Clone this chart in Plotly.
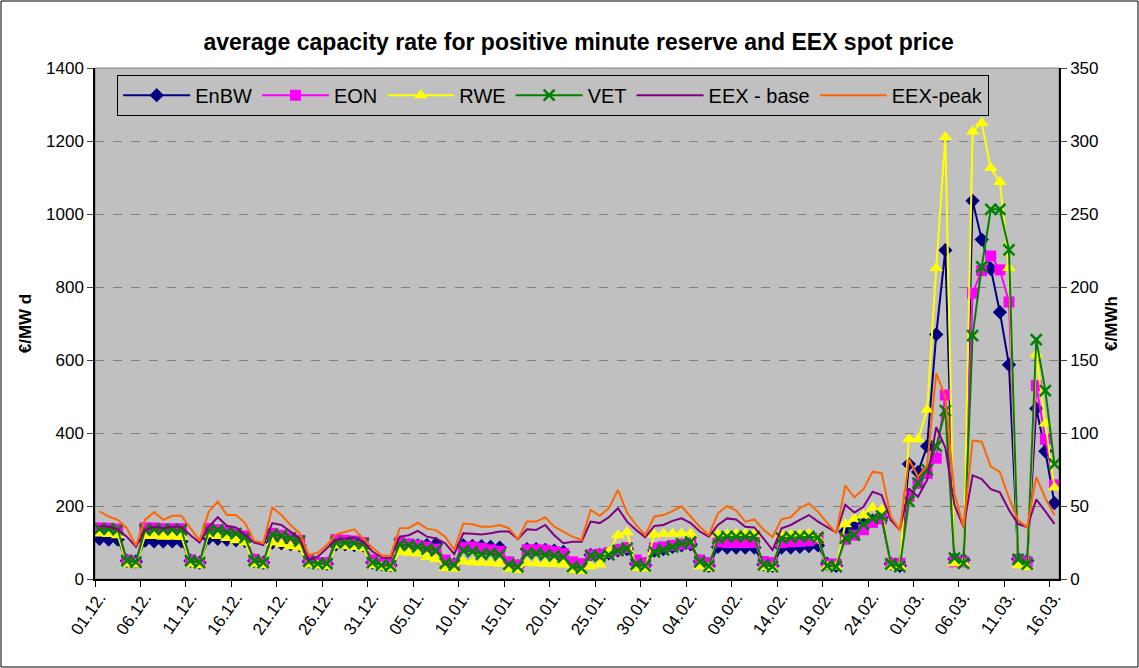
import pandas as pd
import plotly.graph_objects as go

# ---- categories: daily, 01.12.2004 .. 16.03.2005 ----
dates = pd.date_range("2004-12-01", "2005-03-16", freq="D")
day_labels = [d.strftime("%d.%m.") for d in dates]

# ---- supplier capacity rates (EUR/MW d) ----
enbw = [110, 108, 108, 50, 48, 105, 103, 103, 103, 103, 50, 45,
        112, 110, 108, 106, 104, 50, 45, 100, 98, 95, 92, 48, 45, 42,
        95, 95, 93, 92, 45, 40, 38, 90, 92, 92, 93, 96, 45, 40,
        92, 91, 90, 88, 86, 42, 35, 82, 82, 80, 78, 74, 40, 32,
        66, 66, 70, 78, 82, 42, 38, 78, 82, 88, 92, 95, 48, 36,
        88, 86, 86, 86, 86, 40, 36, 86, 86, 88, 90, 92, 42, 36,
        130, 142, 150, 160, 168, 42, 36, 315, 293, 364, 670, 901, 55, 52,
        1036, 930, 850, 731, 587, 55, 50, 467, 350, 208]
eon = [140, 139, 137, 52, 46, 140, 140, 138, 138, 138, 52, 45,
       138, 135, 130, 125, 118, 54, 45, 125, 120, 113, 106, 52, 45, 45,
       108, 106, 104, 100, 52, 42, 40, 100, 96, 92, 88, 82, 52, 40,
       86, 88, 84, 80, 76, 47, 38, 80, 80, 79, 75, 70, 47, 42,
       66, 68, 72, 80, 86, 52, 45, 85, 88, 92, 95, 98, 52, 45,
       102, 100, 100, 100, 100, 48, 45, 100, 102, 103, 105, 111, 41, 41,
       109, 120, 135, 155, 165, 43, 43, 226, 262, 289, 331, 504, 47, 47,
       783, 845, 885, 847, 759, 52, 47, 530, 383, 258]
rwe = [125, 123, 120, 42, 40, 118, 118, 116, 116, 115, 42, 38,
       122, 118, 112, 106, 100, 42, 38, 100, 96, 90, 86, 40, 36, 35,
       92, 90, 88, 85, 38, 32, 30, 75, 72, 70, 60, 55, 30, 28,
       48, 46, 45, 44, 42, 28, 25, 44, 43, 42, 41, 40, 25, 22,
       35, 40, 75, 120, 128, 30, 28, 122, 124, 124, 125, 124, 35, 30,
       122, 122, 124, 124, 124, 32, 30, 120, 120, 122, 124, 110, 34, 34,
       150, 165, 175, 195, 190, 34, 34, 383, 383, 464, 852, 1211, 43, 43,
       1226, 1249, 1126, 1088, 852, 38, 33, 615, 426, 251]
vet = [137, 137, 135, 50, 46, 134, 136, 136, 135, 135, 50, 45,
       132, 134, 128, 124, 114, 50, 45, 122, 118, 112, 104, 48, 42, 42,
       100, 100, 98, 96, 45, 38, 36, 95, 92, 88, 82, 78, 43, 38,
       78, 75, 68, 70, 66, 40, 33, 70, 70, 66, 64, 60, 34, 30,
       64, 62, 66, 78, 84, 40, 36, 74, 80, 88, 97, 102, 47, 35,
       112, 116, 116, 116, 116, 39, 34, 112, 114, 116, 116, 114, 36, 34,
       112, 121, 150, 166, 173, 41, 34, 213, 263, 299, 364, 461, 57, 43,
       667, 855, 1013, 1013, 902, 54, 41, 656, 516, 315]

# ---- EEX spot prices (EUR/MWh, secondary axis) ----
eex_base = [36.3, 35.8, 34.0, 29.0, 22.0, 33.5, 35.8, 34.8, 35.8, 35.8, 30.0, 25.0,
            35.8, 42.3, 36.5, 35.3, 30.3, 25.0, 23.3, 38.3, 37.0, 32.5, 27.8, 13.0, 15.3, 21.0,
            26.8, 27.8, 28.5, 25.5, 18.8, 14.8, 14.3, 29.0, 30.0, 33.0, 29.0, 27.8, 24.5, 17.0,
            31.3, 31.0, 30.5, 31.3, 32.5, 32.5, 27.3, 34.0, 33.5, 37.0, 30.0, 24.5, 25.5, 25.5,
            39.3, 38.3, 42.3, 48.5, 39.3, 33.5, 28.5, 36.3, 37.0, 39.8, 41.5, 38.3, 32.5, 29.0,
            37.0, 41.5, 40.8, 35.8, 35.3, 27.8, 19.8, 34.8, 37.0, 40.5, 43.8, 39.3, 35.8, 31.8,
            50.8, 45.5, 49.5, 59.8, 57.5, 40.5, 33.5, 62.0, 56.3, 67.8, 104.0, 90.0, 50.8, 35.5,
            71.0, 68.5, 61.5, 59.3, 47.3, 37.8, 35.5, 54.5, 46.3, 37.8]
eex_peak = [46.3, 42.8, 40.5, 34.8, 22.8, 40.5, 45.8, 40.5, 43.3, 43.3, 34.8, 26.3,
            46.0, 53.0, 43.8, 43.8, 38.3, 26.3, 24.5, 49.0, 43.8, 37.0, 31.3, 16.5, 18.0, 23.3,
            30.5, 32.5, 34.0, 27.8, 21.5, 16.3, 15.8, 34.8, 35.0, 38.5, 34.5, 33.5, 29.0, 20.0,
            38.0, 37.5, 35.8, 35.8, 37.0, 34.8, 27.3, 39.3, 39.3, 42.3, 35.8, 32.5, 29.0, 26.8,
            47.3, 43.3, 48.5, 61.0, 45.5, 37.0, 30.0, 42.8, 43.8, 46.5, 49.8, 42.8, 35.8, 30.0,
            45.0, 50.0, 46.8, 39.3, 40.8, 33.8, 28.8, 41.0, 42.3, 48.5, 51.8, 46.0, 38.3, 31.3,
            64.0, 56.0, 61.5, 73.5, 72.5, 42.8, 33.5, 82.0, 70.0, 78.0, 140.8, 125.0, 58.8, 35.5,
            94.8, 94.0, 77.0, 73.3, 55.5, 40.3, 35.5, 69.8, 55.5, 43.8]

x = list(range(len(day_labels)))
FONT = "Liberation Sans, Arial, sans-serif"

fig = go.Figure()
suppliers = [
    ("EnBW", enbw, "#000080", "diamond", 11),
    ("EON", eon, "#FF00FF", "square", 11),
    ("RWE", rwe, "#FFFF00", "triangle-up", 12),
    ("VET", vet, "#008000", "x-thin-open", 11),
]
for name, vals, col, sym, sz in suppliers:
    mk = dict(symbol=sym, size=sz, color=col)
    if sym == "x-thin-open":
        mk["line"] = dict(color=col, width=2.5)
    else:
        mk["line"] = dict(width=0)
    fig.add_trace(go.Scatter(x=x, y=vals, name=name, mode="lines+markers",
                             line=dict(color=col, width=2), marker=mk, yaxis="y"))

fig.add_trace(go.Scatter(x=x, y=eex_base, name="EEX - base", mode="lines",
                         line=dict(color="#800080", width=2), yaxis="y2"))
fig.add_trace(go.Scatter(x=x, y=eex_peak, name="EEX-peak", mode="lines",
                         line=dict(color="#FF6600", width=2), yaxis="y2"))

tickvals = list(range(0, len(day_labels), 5))
ticktext = [day_labels[i] for i in tickvals]
boundaries = [i - 0.5 for i in range(0, len(day_labels) + 1, 5)]

fig.update_layout(
    width=1139, height=668,
    margin=dict(l=95, r=80, t=68, b=89),
    paper_bgcolor="white", plot_bgcolor="#C0C0C0",
    font=dict(family=FONT, color="black", size=15),
    title=dict(text="<b>average capacity rate for positive minute reserve and EEX spot price</b>",
               x=0.508, xanchor="center", y=0.937, yanchor="middle",
               font=dict(size=23, family=FONT)),
    xaxis=dict(range=[-0.5, len(day_labels) - 0.5], tickmode="array",
               tickvals=tickvals, ticktext=ticktext, tickangle=-55,
               ticks="", showgrid=False, zeroline=False,
               showline=True, linecolor="black", linewidth=1.5,
               tickfont=dict(size=17),
               minor=dict(tickmode="array", tickvals=boundaries, ticks="outside",
                          ticklen=6, tickcolor="black", tickwidth=1, showgrid=False)),
    yaxis=dict(range=[0, 1400], dtick=200, ticks="outside", ticklen=6,
               showline=True, linecolor="black", linewidth=1.5,
               showgrid=True, gridcolor="#808080", griddash="dash", gridwidth=1,
               zeroline=False, tickfont=dict(size=17),
               title=dict(text="<b>€/MW d</b>", font=dict(size=17), standoff=10)),
    yaxis2=dict(range=[0, 350], dtick=50, overlaying="y", side="right",
                ticks="outside", ticklen=6, showline=True, linecolor="black", linewidth=1.5,
                showgrid=False, zeroline=False, tickfont=dict(size=17),
                title=dict(text="<b>€/MWh</b>", font=dict(size=17), standoff=8)),
    legend=dict(orientation="h", x=0.023, y=0.987, xanchor="left", yanchor="top",
                bgcolor="#C0C0C0", bordercolor="black", borderwidth=1,
                font=dict(size=20, family=FONT), itemwidth=67,
                tracegroupgap=0),
    showlegend=True,
    shapes=[
        dict(type="rect", xref="paper", yref="paper", x0=0, x1=1, y0=0, y1=1,
             line=dict(color="#808080", width=1), layer="below"),
        dict(type="rect", xref="paper", yref="paper",
             x0=-94/964, x1=1043/964, y0=-88/511, y1=578/511,
             line=dict(color="black", width=1)),
    ],
)

fig.write_html("out.html", config={"displayModeBar": False},
               post_script="document.body.style.margin='0px';")
